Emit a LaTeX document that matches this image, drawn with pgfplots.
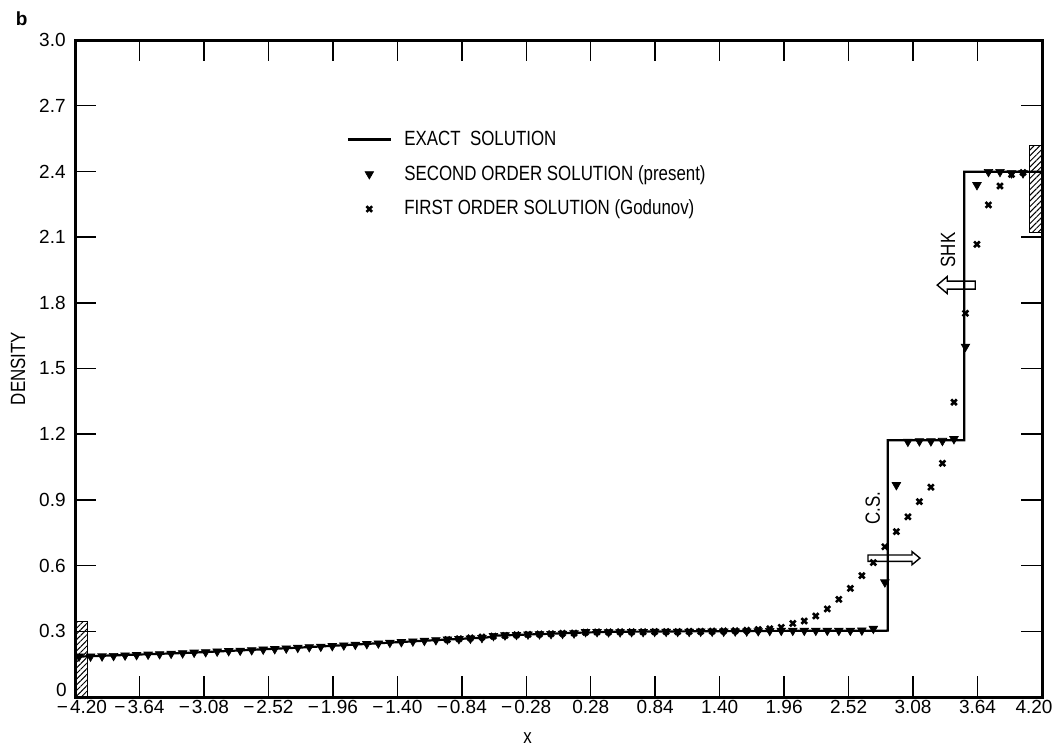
\documentclass[border=0pt]{standalone}
\usepackage{fontspec}
\setmainfont{Liberation Sans}
\newfontfamily\narrowfont{Liberation Sans}[FakeStretch=0.82]
\usepackage{pgfplots}
\usepackage{pgfplotstable}
\pgfplotsset{compat=1.18}
\usetikzlibrary{patterns.meta}

\newcommand\legendfont{\narrowfont\fontsize{10.3}{12}\selectfont}
\newcommand\tickfont{\fontsize{9.5}{11}\selectfont}
\newcommand\mn{−\kern1pt}

\pgfplotsset{
  linelegend/.style={legend image code/.code={\draw[##1] (0pt,0pt) -- (21.5pt,0pt);}},
  marklegend/.style={legend image code/.code={\draw[##1] plot coordinates {(10.75pt,0pt)};}},
}

% exact solution: rarefaction, plateau, contact surface, plateau, shock, plateau
\pgfplotstableread{
x      rho
-4.200 0.184
-3.200 0.202
-2.200 0.227
-1.200 0.256
-0.620 0.272
-0.550 0.280
 0.200 0.294
 0.500 0.298
 1.900 0.302
 2.860 0.303
 2.860 1.172
 3.525 1.172
 3.525 2.398
 4.200 2.398
}\exact

% second order scheme (cell centres)
\pgfplotstableread{
x      rho
-4.165 0.185
-4.065 0.185
-3.965 0.186
-3.865 0.188
-3.765 0.190
-3.665 0.192
-3.565 0.194
-3.465 0.196
-3.365 0.198
-3.265 0.200
-3.165 0.203
-3.065 0.205
-2.965 0.208
-2.865 0.210
-2.765 0.212
-2.665 0.214
-2.565 0.217
-2.465 0.219
-2.365 0.222
-2.265 0.225
-2.165 0.228
-2.065 0.230
-1.965 0.233
-1.865 0.236
-1.765 0.239
-1.665 0.242
-1.565 0.245
-1.465 0.248
-1.365 0.251
-1.265 0.254
-1.165 0.257
-1.065 0.260
-0.965 0.263
-0.865 0.265
-0.765 0.267
-0.665 0.270
-0.565 0.279
-0.465 0.282
-0.365 0.284
-0.265 0.286
-0.165 0.287
-0.065 0.288
 0.035 0.289
 0.135 0.291
 0.235 0.297
 0.335 0.297
 0.435 0.296
 0.535 0.296
 0.635 0.297
 0.735 0.297
 0.835 0.298
 0.935 0.298
 1.035 0.298
 1.135 0.298
 1.235 0.299
 1.335 0.299
 1.435 0.299
 1.535 0.300
 1.635 0.300
 1.735 0.301
 1.835 0.302
 1.935 0.303
 2.035 0.303
 2.135 0.303
 2.235 0.303
 2.335 0.303
 2.435 0.303
 2.535 0.303
 2.635 0.304
 2.735 0.312
 2.835 0.524
 2.935 0.968
 3.035 1.166
 3.135 1.168
 3.235 1.168
 3.335 1.170
 3.435 1.178
 3.535 1.600
 3.635 2.338
 3.735 2.398
 3.835 2.398
 3.935 2.392
 4.035 2.392
}\second

% first order Godunov scheme
\pgfplotstableread{
x      rho
-0.965 0.262
-0.865 0.266
-0.765 0.270
-0.665 0.274
-0.565 0.278
-0.465 0.281
-0.365 0.284
-0.265 0.286
-0.165 0.288
-0.065 0.289
 0.035 0.291
 0.135 0.292
 0.235 0.296
 0.335 0.297
 0.435 0.297
 0.535 0.298
 0.635 0.298
 0.735 0.298
 0.835 0.299
 0.935 0.299
 1.035 0.299
 1.135 0.300
 1.235 0.300
 1.335 0.301
 1.435 0.302
 1.535 0.303
 1.635 0.305
 1.735 0.308
 1.835 0.312
 1.935 0.318
 2.035 0.336
 2.135 0.347
 2.235 0.370
 2.335 0.402
 2.435 0.446
 2.535 0.496
 2.635 0.554
 2.735 0.614
 2.835 0.686
 2.935 0.755
 3.035 0.823
 3.135 0.892
 3.235 0.958
 3.335 1.067
 3.435 1.346
 3.535 1.752
 3.635 2.067
 3.735 2.247
 3.835 2.333
 3.935 2.386
 4.035 2.395
}\first

\begin{document}
\begin{tikzpicture}
\useasboundingbox (0,0) rectangle (529pt,375pt);
\node[font=\bfseries\fontsize{9.5}{11}\selectfont] at (10.8pt,365.8pt) {b};
\begin{axis}[
  at={(37.5pt,26.5pt)}, anchor=south west,
  scale only axis, width=483.5pt, height=328.5pt,
  xmin=-4.2, xmax=4.2, ymin=0, ymax=3.0,
  xtick={-3.64,-3.08,-2.52,-1.96,-1.40,-0.84,-0.28,0.28,0.84,1.40,1.96,2.52,3.08,3.64,4.2},
  xticklabels={\mn3.64,\mn3.08,\mn2.52,\mn1.96,\mn1.40,\mn0.84,\mn0.28,0.28,0.84,1.40,1.96,2.52,3.08,3.64,4.20\kern8pt},
  extra x ticks={-4.2},
  extra x tick labels={\mn4.20},
  extra x tick style={xticklabel style={xshift=3.5pt}},
  ytick={0.3,0.6,0.9,1.2,1.5,1.8,2.1,2.4,2.7,3.0},
  yticklabels={0.3,0.6,0.9,1.2,1.5,1.8,2.1,2.4,2.7,3.0},
  extra y ticks={0},
  extra y tick labels={0},
  extra y tick style={yticklabel style={yshift=3.5pt, inner sep=0.5pt}},
  tick align=inside, major tick length=10.5pt,
  tick style={line width=0.75pt,black},
  axis line style={line width=1.5pt},
  ticklabel style={font=\tickfont},
  xticklabel style={inner sep=1.5pt},
  yticklabel style={inner sep=1pt, xshift=-3.5pt},
  xlabel={x}, ylabel={DENSITY},
  label style={font=\legendfont},
  xlabel style={at={(axis description cs:0.468,-0.0624)}, anchor=center},
  ylabel style={at={(axis description cs:-0.059,0.5)}, anchor=center},
  legend style={
    at={(axis description cs:0.281,0.868)}, anchor=north west,
    draw=none, fill=none, inner sep=0pt, outer sep=0pt,
    font=\legendfont, row sep=4.5pt,
    /tikz/every odd column/.append style={column sep=4.2pt},
  },
  legend cell align=left,
]
% wall hatching at both ends
\addplot[forget plot, draw=black, line width=0.6pt,
  pattern={Lines[angle=45,distance=2pt,line width=0.5pt]}]
  coordinates {(-4.2,0) (-4.09,0) (-4.09,0.345) (-4.2,0.345) (-4.2,0)};
\addplot[forget plot, draw=black, line width=0.6pt,
  pattern={Lines[angle=45,distance=2pt,line width=0.5pt]}]
  coordinates {(4.09,2.12) (4.2,2.12) (4.2,2.52) (4.09,2.52) (4.09,2.12)};

% shock and contact surface arrows
\draw[line width=0.7pt, fill=white, shift={(axis cs:3.455,1.881)}]
  (-9.5pt,0pt) -- (-4.5pt,4.25pt) -- (-4.5pt,2pt) -- (9.5pt,2pt)
  -- (9.5pt,-2pt) -- (-4.5pt,-2pt) -- (-4.5pt,-4.25pt) -- cycle;
\draw[line width=0.7pt, fill=white, shift={(axis cs:2.914,0.634)}]
  (13pt,0pt) -- (9pt,3.3pt) -- (9pt,1.6pt) -- (-13pt,1.6pt)
  -- (-13pt,-1.6pt) -- (9pt,-1.6pt) -- (9pt,-3.3pt) -- cycle;
\node[rotate=90, font=\legendfont] at (axis cs:3.384,2.041) {SHK};
\node[rotate=90, font=\legendfont] at (axis cs:2.73,0.863) {C.S.};

\addplot[black, line width=1.1pt, mark=none, linelegend]
  table[x=x, y=rho] {\exact};
\addlegendentry{EXACT\ \ SOLUTION}

\addplot[only marks, mark=triangle*, mark size=2.5pt,
  mark options={rotate=180, fill=black, draw=black, line width=0.3pt},
  marklegend]
  table[x=x, y=rho] {\second};
\addlegendentry{SECOND ORDER SOLUTION (present)}

\addplot[only marks, mark=x, mark size=2pt,
  mark options={line width=1.3pt, draw=black},
  marklegend]
  table[x=x, y=rho] {\first};
\addlegendentry{FIRST ORDER SOLUTION (Godunov)}
\end{axis}
\end{tikzpicture}
\end{document}
